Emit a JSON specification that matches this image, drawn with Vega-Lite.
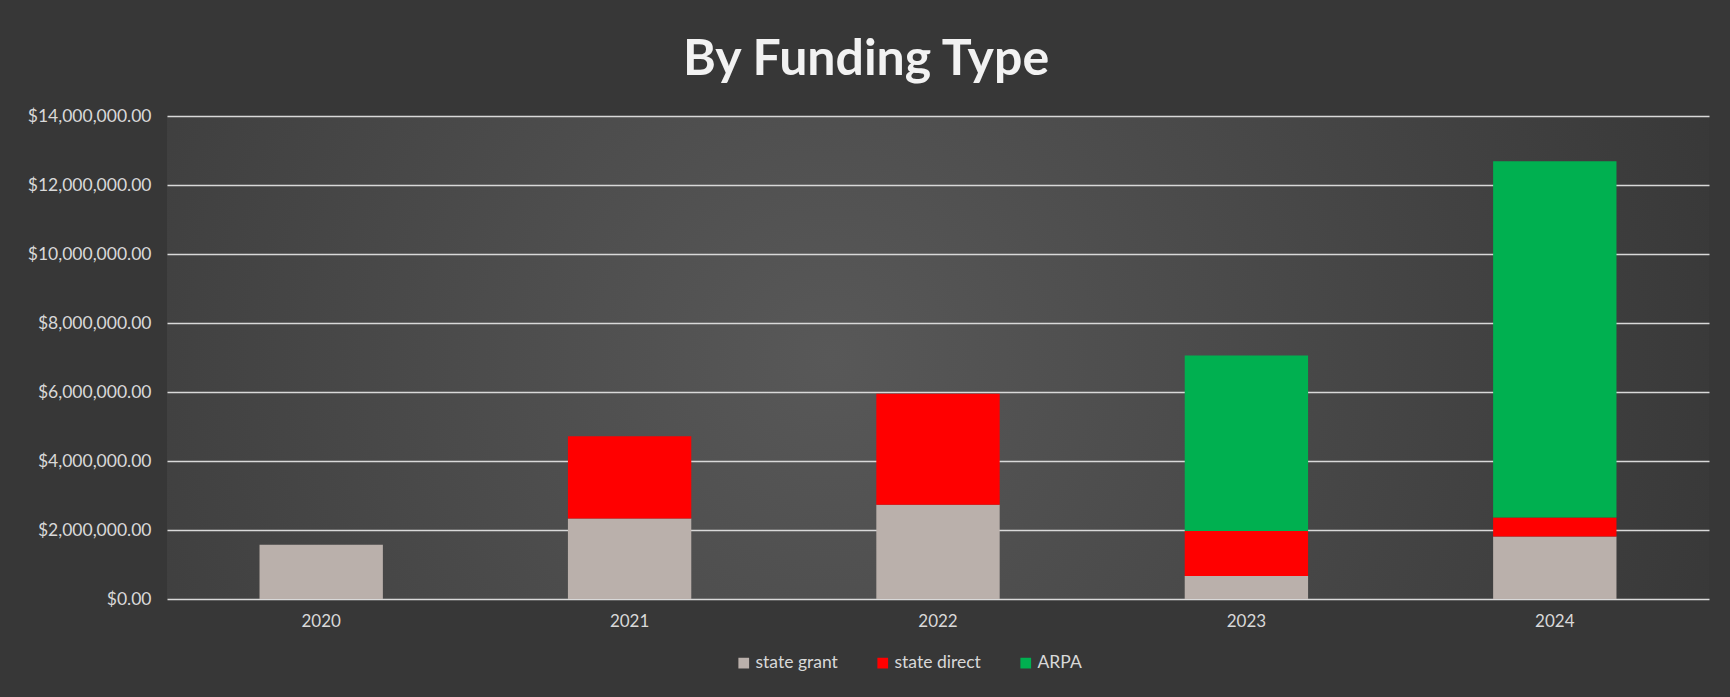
{
  "$schema": "https://vega.github.io/schema/vega-lite/v6.json",
  "autosize": "none",
  "width": 1542,
  "height": 483,
  "padding": {"left": 167, "top": 116, "right": 21, "bottom": 98},
  "background": "#373737",
  "title": {
    "text": "By Funding Type",
    "font": "Lato",
    "fontSize": 50,
    "fontWeight": "bold",
    "color": "#f2f2f2",
    "anchor": "middle",
    "offset": 22,
    "dx": -72
  },
  "data": {
    "values": [
      {"year": "2020", "type": "state grant", "amount": 1570000},
      {"year": "2021", "type": "state grant", "amount": 2330000},
      {"year": "2021", "type": "state direct", "amount": 2390000},
      {"year": "2022", "type": "state grant", "amount": 2730000},
      {"year": "2022", "type": "state direct", "amount": 3220000},
      {"year": "2023", "type": "state grant", "amount": 670000},
      {"year": "2023", "type": "state direct", "amount": 1300000},
      {"year": "2023", "type": "ARPA", "amount": 5090000},
      {"year": "2024", "type": "state grant", "amount": 1810000},
      {"year": "2024", "type": "state direct", "amount": 550000},
      {"year": "2024", "type": "ARPA", "amount": 10330000}
    ]
  },
  "mark": {"type": "bar"},
  "encoding": {
    "x": {
      "field": "year",
      "type": "ordinal",
      "scale": {"paddingInner": 0.6, "paddingOuter": 0.3},
      "axis": {
        "title": null,
        "labelAngle": 0,
        "domain": false,
        "ticks": false,
        "grid": false,
        "labelFont": "Lato",
        "labelFontSize": 17,
        "labelColor": "#d9d9d9",
        "labelPadding": 14
      }
    },
    "y": {
      "field": "amount",
      "type": "quantitative",
      "aggregate": "sum",
      "stack": "zero",
      "scale": {"domain": [0, 14000000], "nice": false},
      "axis": {
        "title": null,
        "values": [0, 2000000, 4000000, 6000000, 8000000, 10000000, 12000000, 14000000],
        "format": "$,.2f",
        "domain": false,
        "ticks": false,
        "grid": true,
        "gridColor": "#d9d9d9",
        "gridWidth": 1.6,
        "labelFont": "Lato",
        "labelFontSize": 17.5,
        "labelColor": "#d9d9d9",
        "labelPadding": 16
      }
    },
    "color": {
      "field": "type",
      "type": "nominal",
      "scale": {
        "domain": ["state grant", "state direct", "ARPA"],
        "range": ["#bab0ab", "#ff0000", "#00b050"]
      },
      "legend": {
        "title": null,
        "orient": "none",
        "direction": "horizontal",
        "legendX": 568,
        "legendY": 538,
        "symbolType": "square",
        "symbolSize": 115,
        "symbolStrokeWidth": 0,
        "labelFont": "Lato",
        "labelFontSize": 17.5,
        "labelColor": "#d9d9d9",
        "labelOffset": 3,
        "columnPadding": 36
      }
    },
    "order": {"field": "type", "sort": "descending"}
  },
  "config": {
    "view": {
      "stroke": null,
      "fill": {
        "gradient": "radial",
        "x1": 0.43, "y1": 0.5, "x2": 0.43, "y2": 0.5,
        "r1": 0, "r2": 0.62,
        "stops": [
          {"offset": 0, "color": "#585858"},
          {"offset": 1, "color": "#373737"}
        ]
      }
    }
  }
}
